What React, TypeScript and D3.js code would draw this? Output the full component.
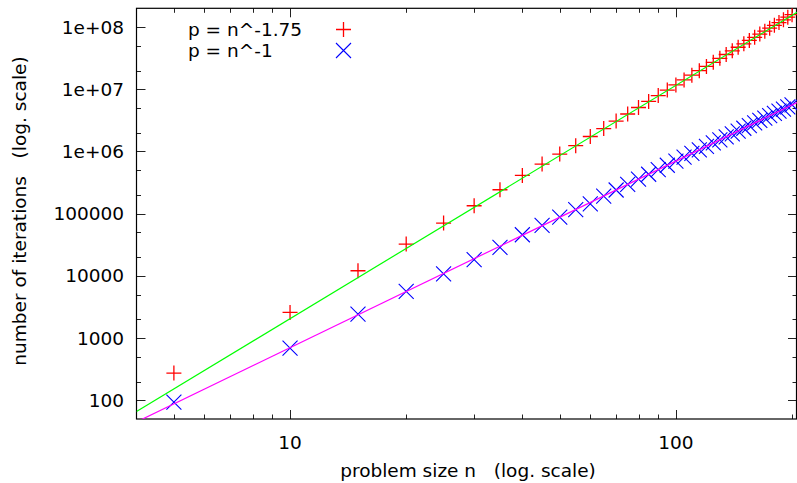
import * as d3 from 'd3';
import {useEffect, useRef} from 'react';

const width = 797;
const height = 483;

// problem sizes n
const sizes = [
  5, 10, 15, 20, 25, 30, 35, 40, 45, 50, 55, 60, 65, 70, 75, 80, 85, 90, 95, 100,
  105, 110, 115, 120, 125, 130, 135, 140, 145, 150, 155, 160, 165, 170, 175, 180,
  185, 190, 195, 200,
];

// iterations for p = n^-1.75 (red +)
const iterRed = [
  274, 2580, 12080, 32400, 70600, 134000, 242000, 411000, 627000, 908000,
  1236000, 1740000, 2330000, 3080000, 4000000, 5090000, 6380000, 7910000,
  9680000, 11750000, 14100000, 16800000, 19900000, 23300000, 27100000, 31400000,
  36200000, 41500000, 47300000, 53700000, 60800000, 68400000, 76900000,
  85900000, 95700000, 106400000, 118000000, 130500000, 144000000, 158000000,
];

// iterations for p = n^-1 (blue x)
const iterBlue = [
  93.5, 690, 2430, 5610, 10800, 18200, 28600, 45800, 64600, 88100, 115600,
  144000, 192000, 240000, 295000, 358000, 430000, 510000, 600000, 700000,
  810000, 931000, 1064000, 1210000, 1370000, 1540000, 1720000, 1920000,
  2130000, 2360000, 2610000, 2870000, 3150000, 3440000, 3750000, 4080000,
  4440000, 4800000, 5190000, 5600000,
];

// fitted lines (end points)
const fitGreen: [number, number][] = [[4, 66], [206, 173000000]];
const fitMagenta: [number, number][] = [[4, 44.8], [206, 6120000]];

const xTicks = [10, 100];
const yTicks = [100, 1000, 10000, 100000, 1e6, 1e7, 1e8];
const yTickLabels = ['100', '1000', '10000', '100000', '1e+06', '1e+07', '1e+08'];

const legendLabels = ['p = n^-1.75', 'p = n^-1'];

const margin = {left: 136.5, right: 797, top: 8.3, bottom: 419};
const font = '"DejaVu Sans", sans-serif';
const fs = 18.5;

function App() {
  const ref = useRef<HTMLDivElement>(null);

  useEffect(() => {
    const x = d3.scaleLog().domain([4, 206]).range([margin.left, margin.right]);
    const y = d3.scaleLog().domain([50, 2e8]).range([margin.bottom, margin.top]);

    const svg = d3
      .select(ref.current)
      .append('svg')
      .attr('width', width)
      .attr('height', height)
      .style('position', 'absolute')
      .style('left', 0)
      .style('top', 0)
      .style('background', '#fff')
      .style('font-family', font);

    svg
      .append('defs')
      .append('clipPath')
      .attr('id', 'plotclip')
      .append('rect')
      .attr('x', margin.left)
      .attr('y', margin.top)
      .attr('width', margin.right - margin.left)
      .attr('height', margin.bottom - margin.top);

    // ticks
    const xMinor = [5, 6, 7, 8, 9, 20, 30, 40, 50, 60, 70, 80, 90, 200];
    const yMinor: number[] = [];
    for (let e = 1; e <= 8; e++) {
      yMinor.push(2 * 10 ** e, 5 * 10 ** e);
    }
    const tickG = svg.append('g').attr('stroke', '#222').attr('stroke-width', 1);
    const drawX = (v: number, len: number) => {
      const px = Math.round(x(v)) + 0.5;
      tickG.append('line').attr('x1', px).attr('x2', px).attr('y1', margin.bottom).attr('y2', margin.bottom - len);
      tickG.append('line').attr('x1', px).attr('x2', px).attr('y1', margin.top).attr('y2', margin.top + len);
    };
    const drawY = (v: number, len: number) => {
      const py = Math.round(y(v)) + 0.5;
      tickG.append('line').attr('x1', margin.left).attr('x2', margin.left + len).attr('y1', py).attr('y2', py);
      tickG.append('line').attr('x1', margin.right).attr('x2', margin.right - len).attr('y1', py).attr('y2', py);
    };
    xTicks.forEach(v => drawX(v, 9));
    xMinor.forEach(v => drawX(v, 4.5));
    yTicks.forEach(v => drawY(v, 9));
    yMinor.filter(v => v > 50 && v < 2e8).forEach(v => drawY(v, 4.5));

    // border
    svg
      .append('rect')
      .attr('x', margin.left)
      .attr('y', margin.top)
      .attr('width', margin.right - margin.left - 0.5)
      .attr('height', margin.bottom - margin.top)
      .attr('fill', 'none')
      .attr('stroke', '#000')
      .attr('stroke-width', 1.2);

    // tick labels
    svg
      .append('g')
      .selectAll('text')
      .data(xTicks)
      .join('text')
      .attr('x', d => x(d))
      .attr('y', 448.5)
      .attr('text-anchor', 'middle')
      .attr('font-size', fs)
      .attr('fill', '#000')
      .text(d => String(d));

    svg
      .append('g')
      .selectAll('text')
      .data(yTicks)
      .join('text')
      .attr('x', 124)
      .attr('y', d => y(d) + 6.5)
      .attr('text-anchor', 'end')
      .attr('font-size', fs)
      .attr('fill', '#000')
      .text((d, i) => yTickLabels[i]);

    // axis titles
    svg
      .append('text')
      .attr('x', 468)
      .attr('y', 477)
      .attr('text-anchor', 'middle')
      .attr('font-size', fs)
      .style('white-space', 'pre')
      .text('problem size n   (log. scale)');

    svg
      .append('text')
      .attr('transform', 'translate(26, 211) rotate(-90)')
      .attr('text-anchor', 'middle')
      .attr('font-size', fs)
      .style('white-space', 'pre')
      .text('number of iterations   (log. scale)');

    const plot = svg.append('g').attr('clip-path', 'url(#plotclip)');
    const line = d3
      .line<[number, number]>()
      .x(d => x(d[0]))
      .y(d => y(d[1]));

    const plus = 'M-7.5,0H7.5M0,-7.5V7.5';
    const cross = 'M-7.5,-7.5L7.5,7.5M7.5,-7.5L-7.5,7.5';

    plot
      .append('g')
      .selectAll('path')
      .data(sizes)
      .join('path')
      .attr('transform', (d, i) => `translate(${x(d)},${y(iterRed[i])})`)
      .attr('d', plus)
      .attr('stroke', '#ff0000')
      .attr('stroke-width', 1.3)
      .attr('fill', 'none');

    plot
      .append('path')
      .datum(fitGreen)
      .attr('fill', 'none')
      .attr('stroke', '#00ff00')
      .attr('stroke-width', 1.2)
      .attr('d', line);

    plot
      .append('g')
      .selectAll('path')
      .data(sizes)
      .join('path')
      .attr('transform', (d, i) => `translate(${x(d)},${y(iterBlue[i])})`)
      .attr('d', cross)
      .attr('stroke', '#0000ff')
      .attr('stroke-width', 1.1)
      .attr('fill', 'none');

    plot
      .append('path')
      .datum(fitMagenta)
      .attr('fill', 'none')
      .attr('stroke', '#ff00ff')
      .attr('stroke-width', 1.2)
      .attr('d', line);

    // legend
    const legend = svg.append('g');
    legendLabels.forEach((label, i) => {
      const ly = 29.5 + i * 21;
      legend
        .append('text')
        .attr('x', 188)
        .attr('y', ly + 6.5)
        .attr('font-size', fs)
        .attr('fill', '#000')
        .text(label);
      legend
        .append('path')
        .attr('transform', `translate(343.5,${ly})`)
        .attr('d', i === 0 ? plus : cross)
        .attr('stroke', i === 0 ? '#ff0000' : '#0000ff')
        .attr('stroke-width', i === 0 ? 1.3 : 1.1)
        .attr('fill', 'none');
    });

    return () => {
      svg.remove();
    };
  }, []);

  return <div ref={ref}></div>;
}

export default App;
